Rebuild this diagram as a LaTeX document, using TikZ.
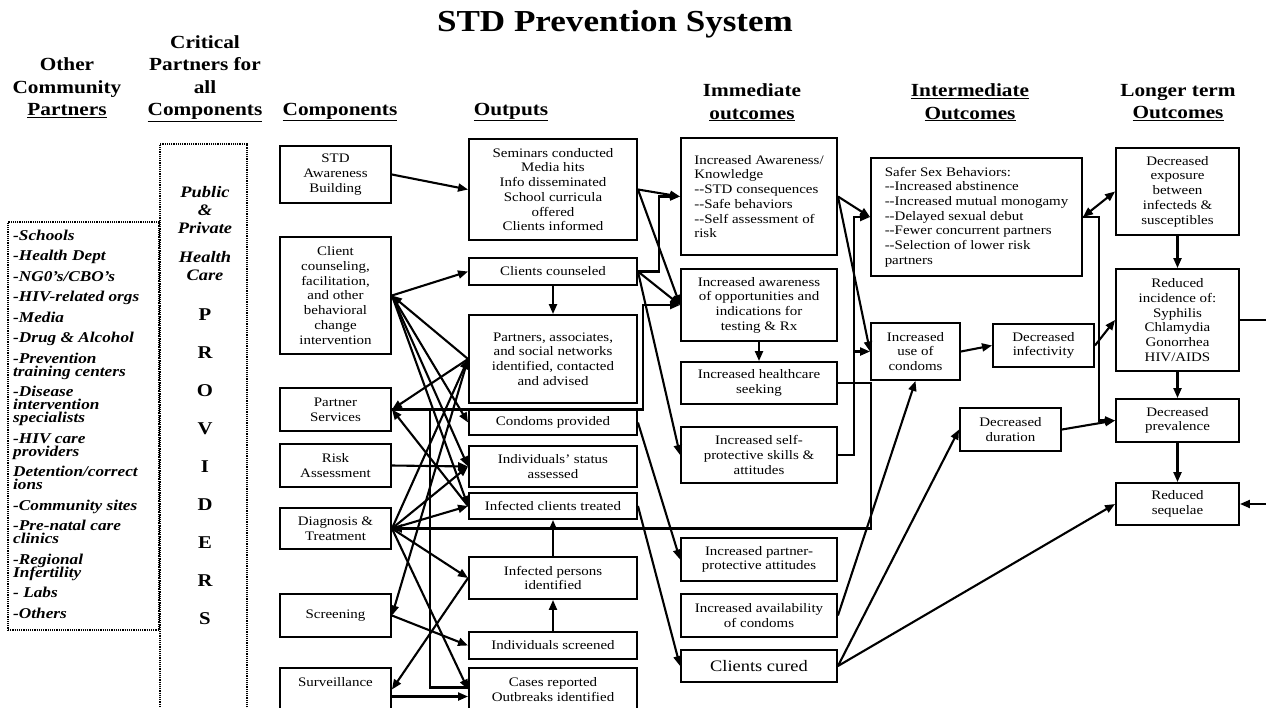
\documentclass[tikz,border=0pt]{standalone}
\usepackage{fontspec}
\setmainfont{Liberation Serif}[FakeStretch=1.15]
\usetikzlibrary{arrows.meta}
\setlength{\lineskiplimit}{-10pt}

\begin{document}
\begin{tikzpicture}[x=1pt,y=-1pt,
  box/.style={draw,line width=1.9pt,align=center,inner sep=1pt,
    font=\fontsize{13}{14.7}\selectfont},
  head/.style={align=center,font=\fontsize{18.5}{22.5}\selectfont\bfseries},
  dotbox/.style={draw,densely dotted,line width=1.2pt},
  link/.style={line width=2.1pt,->,>={Triangle[length=10pt,width=8pt]}},
  wire/.style={line width=2.1pt}]
\useasboundingbox (0,0) rectangle (1266,707);

\node[font=\fontsize{30.5}{32}\selectfont\bfseries] (title) at (615,24) {STD Prevention System};

\node[head] (hothers) at (67,88)    {Other\\Community\\\underline{Partners}};
\node[head] (hcrit)   at (205,78.5) {Critical\\Partners for\\all\\\underline{Components}};
\node[head] (hcomp)   at (340,112)  {\underline{Components}};
\node[head] (hout)    at (511,112)  {\underline{Outputs}};
\node[head] (himm)    at (752,102.5) {Immediate\\\underline{outcomes}};
\node[head] (hint)    at (970,102.5) {\underline{Intermediate}\\\underline{Outcomes}};
\node[head] (hlong)   at (1178,102.5) {Longer term\\\underline{Outcomes}};

\node[dotbox,minimum width=151pt,minimum height=408pt] (others) at (83.5,426) {};
\node[align=left,anchor=north west,inner sep=0pt,
  font=\fontsize{15}{13}\selectfont\bfseries\itshape] (olist) at (13,229.5)
  {-Schools\\[7.5pt]-Health Dept\\[7.5pt]-NG0’s/CBO’s\\[7.5pt]-HIV-related orgs\\[7.5pt]-Media\\[7.5pt]%
   -Drug \& Alcohol\\[7.5pt]-Prevention\\training centers\\[7.5pt]-Disease\\intervention\\specialists\\[7.5pt]%
   -HIV care\\providers\\[7.5pt]Detention/correct\\ions\\[7.5pt]-Community sites\\[7.5pt]%
   -Pre-natal care\\clinics\\[7.5pt]-Regional\\Infertility\\[7.5pt]- Labs\\[7.5pt]-Others};

\node[dotbox,minimum width=87pt,minimum height=571pt] (crit) at (203.5,429.5) {};
\node[align=center,font=\fontsize{16}{18}\selectfont\bfseries\itshape] (pub) at (205,210) {Public\\\&\\Private};
\node[align=center,font=\fontsize{16}{18}\selectfont\bfseries\itshape] (hc)  at (205,266) {Health\\Care};
\node[align=center,font=\fontsize{18}{38}\selectfont\bfseries] (prov) at (205,467) {P\\R\\O\\V\\I\\D\\E\\R\\S};

\node[box,minimum width=111pt,minimum height=57pt]  (aware)      at (335.5,174.5) {STD\\Awareness\\Building};
\node[box,minimum width=111pt,minimum height=117pt] (counsel)    at (335.5,295.5) {Client\\counseling,\\facilitation,\\and other\\behavioral\\change\\intervention};
\node[box,minimum width=111pt,minimum height=43pt]  (partnersvc) at (335.5,409.5) {Partner\\Services};
\node[box,minimum width=111pt,minimum height=43pt]  (risk)       at (335.5,465.5) {Risk\\Assessment};
\node[box,minimum width=111pt,minimum height=41pt]  (diag)       at (335.5,528.5) {Diagnosis \&\\Treatment};
\node[box,minimum width=111pt,minimum height=43pt]  (screen)     at (335.5,615.5) {Screening};
\node[box,minimum width=111pt,minimum height=43pt]  (surv)       at (335.5,689.5) {Surveillance\\\mbox{}};

\node[box,minimum width=168pt,minimum height=101pt] (seminars)    at (553,189.5) {Seminars conducted\\Media hits\\Info disseminated\\School curricula\\offered\\Clients informed};
\node[box,minimum width=168pt,minimum height=27pt]  (counseled)   at (553,271.5) {Clients counseled};
\node[box,minimum width=168pt,minimum height=88pt]  (partnersbox) at (553,359)   {Partners, associates,\\and social networks\\identified, contacted\\and advised};
\node[box,minimum width=168pt,minimum height=25pt]  (condoms)     at (553,422.5) {Condoms provided};
\node[box,minimum width=168pt,minimum height=41pt]  (status)      at (553,466.5) {Individuals’ status\\assessed};
\node[box,minimum width=168pt,minimum height=26pt]  (treated)     at (553,506)   {Infected clients treated};
\node[box,minimum width=168pt,minimum height=42pt]  (infid)       at (553,578)   {Infected persons\\identified};
\node[box,minimum width=168pt,minimum height=27pt]  (screened)    at (553,645.5) {Individuals screened};
\node[box,minimum width=168pt,minimum height=43pt]  (cases)       at (553,689.5) {Cases reported\\Outbreaks identified};

\node[box,align=left,minimum width=156pt,minimum height=117pt] (knowledge) at (759,196.5) {Increased Awareness/\\Knowledge\\-{}-STD consequences\\-{}-Safe behaviors\\-{}-Self assessment of\\risk};
\node[box,minimum width=156pt,minimum height=72pt] (opps)     at (759,305)   {Increased awareness\\of opportunities and\\indications for\\testing \& Rx};
\node[box,minimum width=156pt,minimum height=42pt] (care)     at (759,383)   {Increased healthcare\\seeking};
\node[box,minimum width=156pt,minimum height=56pt] (selfprot) at (759,455)   {Increased self-\\protective skills \&\\attitudes};
\node[box,minimum width=156pt,minimum height=43pt] (partprot) at (759,559.5) {Increased partner-\\protective attitudes};
\node[box,minimum width=156pt,minimum height=43pt] (avail)    at (759,615.5) {Increased availability\\of condoms};
\node[box,minimum width=156pt,minimum height=32pt,font=\fontsize{16}{18}\selectfont] (cured) at (759,666) {Clients cured};

\node[box,align=left,minimum width=211pt,minimum height=118pt] (safer) at (976.5,217) {Safer Sex Behaviors:\\-{}-Increased abstinence\\-{}-Increased mutual monogamy\\-{}-Delayed sexual debut\\-{}-Fewer concurrent partners\\-{}-Selection of lower risk\\partners};
\node[box,minimum width=89pt,minimum height=57pt]  (usecond)  at (915.5,351.5)  {Increased\\use of\\condoms};
\node[box,minimum width=101pt,minimum height=43pt] (infect)   at (1043.5,345.5) {Decreased\\infectivity};
\node[box,minimum width=101pt,minimum height=43pt] (duration) at (1010.5,429.5) {Decreased\\duration};

\node[box,minimum width=123pt,minimum height=87pt]  (exposure)   at (1177.5,191.5) {Decreased\\exposure\\between\\infecteds \&\\susceptibles};
\node[box,minimum width=123pt,minimum height=102pt] (incidence)  at (1177.5,320)   {Reduced\\incidence of:\\Syphilis\\Chlamydia\\Gonorrhea\\HIV/AIDS};
\node[box,minimum width=123pt,minimum height=43pt]  (prevalence) at (1177.5,420.5) {Decreased\\prevalence};
\node[box,minimum width=123pt,minimum height=42pt]  (sequelae)   at (1177.5,504)   {Reduced\\sequelae};

\draw[link] (aware.east) -- (seminars.west);
\draw[link] (counsel.east) -- (counseled.west);
\draw[link] (partnersbox.west) -- (counsel.east);
\draw[link] (counsel.east) -- (condoms.west);
\draw[link] (counsel.east) -- (status.west);
\draw[link] (counsel.east) -- (treated.west);
\draw[link] (partnersbox.west) -- (partnersvc.east);
\draw[link] (treated.west) -- (partnersvc.east);
\draw[link] (risk.east) -- (status.west);
\draw[link] (diag.east) -- (partnersbox.west);
\draw[link] (diag.east) -- (status.west);
\draw[link] (diag.east) -- (treated.west);
\draw[link] (diag.east) -- (infid.west);
\draw[link] (diag.east) -- (cases.west);
\draw[link] (partnersbox.west) -- (screen.east);
\draw[link] (screen.east) -- (screened.west);
\draw[link] (infid.west) -- (surv.east);
\draw[link] ([yshift=-7pt]surv.east) -- ([yshift=-7pt]cases.west);

\draw[link] (counseled.south) -- (partnersbox.north);
\draw[link] (infid.north) -- (treated.south);
\draw[link] (screened.north) -- (infid.south);
\coordinate (bend) at (643,305);
\draw[link] (partnersvc.east) -| (bend) -- (opps.west);
\draw[wire] ([yshift=2pt]cases.west) -- ++(-38,0) |- (partnersvc.east);

\draw[link] (seminars.east) -- (knowledge.west);
\draw[link] (seminars.east) -- (opps.west);
\draw[link] (counseled.east) -- ++(21,0) |- (knowledge.west);
\draw[link] (counseled.east) -- (opps.west);
\draw[link] (counseled.east) -- (selfprot.west);
\draw[link] (condoms.east) -- (partprot.west);
\draw[link] (treated.east) -- (cured.west);
\draw[link] (opps.south) -- (care.north);
\draw[link] (care.east) -- ++(33,0) |- (diag.east);

\draw[link] (knowledge.east) -- (safer.west);
\draw[link] (knowledge.east) -- (usecond.west);
\draw[link] (selfprot.east) -- ++(16,0) coordinate (sp) |- (safer.west);
\draw[link] (sp |- usecond.west) -- (usecond.west);
\draw[link] (avail.east) -- (usecond.south);
\draw[link] (cured.east) -- (duration.west);
\draw[link] (cured.east) -- (sequelae.west);

\draw[link] (usecond.east) -- (infect.west);
\draw[link] (infect.east) -- (incidence.west);
\draw[link] (duration.east) -- (prevalence.west);
\draw[link,<->] (safer.east) -- (exposure.west);
\draw[link] (safer.east) -- ++(16,0) |- (prevalence.west);
\draw[link] (exposure.south) -- (incidence.north);
\draw[link] (incidence.south) -- (prevalence.north);
\draw[link] (prevalence.south) -- (sequelae.north);
\draw[link] (incidence.east) -- ++(40,0) |- (sequelae.east);
\end{tikzpicture}
\end{document}
